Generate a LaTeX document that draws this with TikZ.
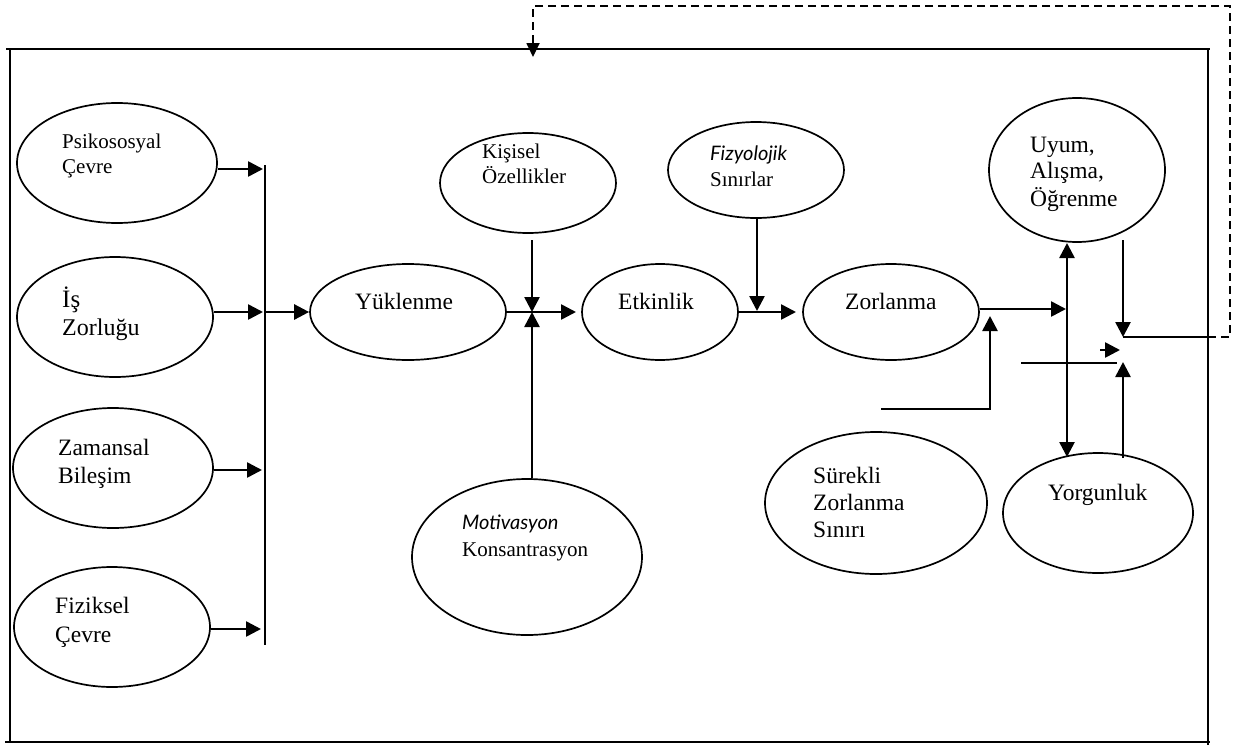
\documentclass[tikz,border=0pt]{standalone}
\usepackage{fontspec}
\setmainfont{Liberation Serif}
\newfontfamily\gillit{Lato}
\usetikzlibrary{arrows.meta,shapes.geometric}
\begin{document}
\begin{tikzpicture}[x=1pt,y=-1pt,
  ell/.style={draw,ellipse,line width=1.7pt,inner sep=0pt},
  lbl/.style={anchor=base west,inner sep=0pt,font=\fontsize{23.5}{27}\selectfont},
  lbls/.style={anchor=base west,inner sep=0pt,font=\fontsize{21}{25}\selectfont},
  lbli/.style={anchor=base west,inner sep=0pt,font=\gillit\itshape\fontsize{20}{24}\selectfont},
  conn/.style={line width=2.6pt,-{Triangle[length=15pt,width=15pt]}},
  both/.style={line width=2.6pt,{Triangle[length=15pt,width=15pt]}-{Triangle[length=15pt,width=15pt]}},
  plain/.style={line width=1.9pt},
  dashline/.style={line width=1.8pt,dash pattern=on 8pt off 5pt}]
\useasboundingbox (0,0) rectangle (1234,747);

% outer frame
\coordinate (ftl) at (10,49);
\coordinate (ftr) at (1208,49);
\coordinate (fbl) at (10,742);
\coordinate (fbr) at (1208,742);
\draw[line width=1.9pt] (6,49) -- (1210,49);
\draw[line width=1.9pt] (5,742) -- (1210,742);
\draw[line width=1.9pt] (ftl) -- (fbl);
\draw[line width=1.9pt] (ftr) -- (1208,745);

% ellipses
\node[ell,minimum width=200pt,minimum height=120pt] (psi) at (117,163) {};
\node[ell,minimum width=196pt,minimum height=120pt] (isz) at (115,317) {};
\node[ell,minimum width=200pt,minimum height=120pt] (zam) at (113,468) {};
\node[ell,minimum width=196pt,minimum height=120pt] (fiz) at (112,627) {};
\node[ell,minimum width=196pt,minimum height=96pt] (yuk) at (408,312) {};
\node[ell,minimum width=176pt,minimum height=100pt] (kis) at (528,183) {};
\node[ell,minimum width=230pt,minimum height=156pt] (mot) at (527,557) {};
\node[ell,minimum width=156pt,minimum height=96pt] (etk) at (660,312) {};
\node[ell,minimum width=176pt,minimum height=96pt] (fzy) at (756,170) {};
\node[ell,minimum width=176pt,minimum height=96pt] (zor) at (891,312) {};
\node[ell,minimum width=176pt,minimum height=144pt] (uyu) at (1077,170) {};
\node[ell,minimum width=222pt,minimum height=142pt] (sur) at (876,503) {};
\node[ell,minimum width=190pt,minimum height=120pt] (yor) at (1098,513) {};

% labels
\node[lbls] (t1a) at (62,148) {Psikososyal};
\node[lbls] (t1b) at (62,173) {Çevre};
\node[lbl,font=\fontsize{25}{28}\selectfont] (t2a) at (62,307) {İş};
\node[lbl,font=\fontsize{24}{28}\selectfont] (t2b) at (62,335) {Zorluğu};
\node[lbl] (t3a) at (58,455) {Zamansal};
\node[lbl] (t3b) at (58,483) {Bileşim};
\node[lbl] (t4a) at (55,613) {Fiziksel};
\node[lbl] (t4b) at (55,642) {Çevre};
\node[lbl] (t5) at (355,309) {Yüklenme};
\node[lbls] (t6a) at (482,158) {Kişisel};
\node[lbls] (t6b) at (482,183) {Özellikler};
\node[lbl] (t7) at (618,309) {Etkinlik};
\node[lbli] (t8a) at (710,160) {Fizyolojik};
\node[lbls] (t8b) at (710,186) {Sınırlar};
\node[lbl] (t9) at (845,309) {Zorlanma};
\node[lbli] (t10a) at (462,529) {Motivasyon};
\node[lbls] (t10b) at (462,556) {Konsantrasyon};
\node[lbl] (t11a) at (1030,152) {Uyum,};
\node[lbl] (t11b) at (1030,178) {Alışma,};
\node[lbl] (t11c) at (1030,206) {Öğrenme};
\node[lbl] (t12a) at (813,483) {Sürekli};
\node[lbl] (t12b) at (813,510) {Zorlanma};
\node[lbl] (t12c) at (813,537) {Sınırı};
\node[lbl] (t13) at (1048,500) {Yorgunluk};

% collector bar
\coordinate (bart) at (265,165);
\coordinate (barb) at (265,645);
\coordinate (barm) at (265,312);
\draw[plain] (bart) -- (barb);
\draw[conn] (psi.east |- 0,169) -- (263,169);
\draw[conn] (isz.east |- 0,312) -- (263,312);
\draw[conn] (zam.east |- 0,470) -- (262,470);
\draw[conn] (fiz.east |- 0,629) -- (261,629);
\draw[conn] (barm) -- (yuk.west);

% Yüklenme -> Etkinlik, with Kişisel and Motivasyon
\coordinate (j1) at (532,312);
\draw[conn] (yuk.east) -- (576,312);
\draw[conn] (532,240) -- (j1);
\draw[conn] (mot.north -| j1) -- (j1);

% Etkinlik -> Zorlanma, with Fizyolojik
\coordinate (j2) at (757,311);
\draw[conn] (etk.east) -- (796,312);
\draw[conn] (fzy.south -| j2) -- (j2);

% Zorlanma -> right side
\coordinate (j3) at (1066,309);
\draw[conn] (zor.east |- j3) -- (j3);
\coordinate (jb) at (990,316);
\draw[conn] (881,409) -- (990,409) -- (jb);
\draw[both] (1067,243) -- (1067,457);

% Uyum / Yorgunluk to output
\coordinate (jo) at (1123,337);
\draw[conn] (1123,240) -- (jo);
\draw[plain] (jo) -- (1208,337);
\draw[conn] (1123,458) -- (1123,362);
\draw[plain] (1021,363) -- (1117,363);
\draw[conn] (1100,350) -- (1120,350);

% feedback dashed loop
\coordinate (fbtop) at (533,57);
\draw[dashline] (1208,337) -- (1230,337) -- (1230,6) -- (533,6) -- (533,45);
\draw[line width=1.8pt,-{Triangle[length=14pt,width=13pt]}] (533,44) -- (fbtop);
\end{tikzpicture}
\end{document}
